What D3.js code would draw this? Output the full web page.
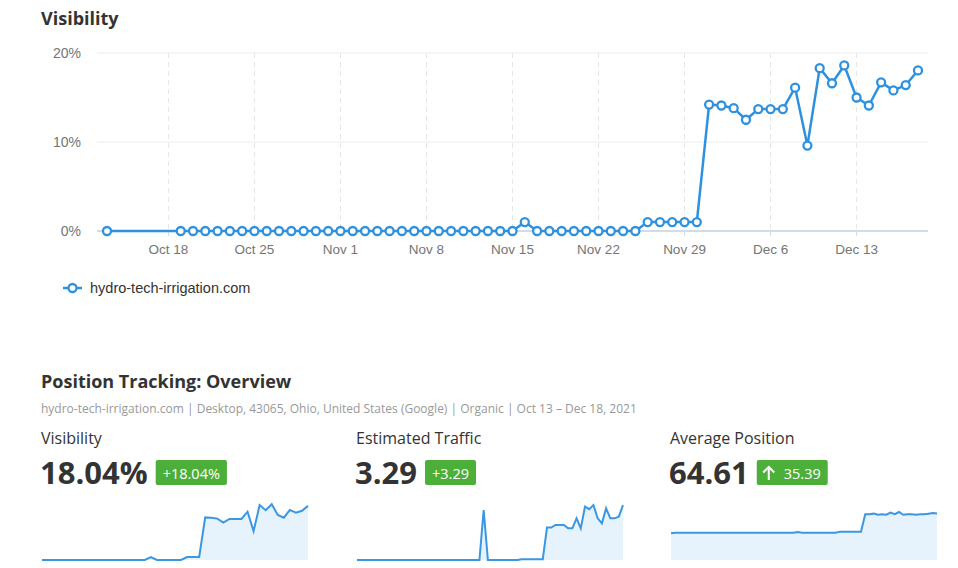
<!doctype html>
<html lang="en">
<head>
<meta charset="UTF-8">
<title>Visibility</title>
<script src="https://d3js.org/d3.v7.min.js"></script>
<style>
  body { margin: 0; background: #fff; font-family: "Open Sans", "Noto Sans", sans-serif; }
</style>
</head>
<body>
<div id="chart-area"></div>
<script>

// main visibility series, Oct 13 - Dec 18 2021 (null = no data)
const startDate = new Date(2021, 9, 13);
const visibility = [
  0, null, null, null, null, null,
  0, 0, 0, 0, 0, 0, 0, 0, 0, 0, 0, 0, 0, 0,
  0, 0, 0, 0, 0, 0, 0, 0, 0, 0, 0, 0, 0, 0,
  1.0, 0, 0, 0, 0, 0, 0, 0, 0, 0,
  1.0, 1.0, 1.0, 1.0, 1.0,
  14.2, 14.1, 13.8, 12.5, 13.7, 13.7, 13.7, 16.1, 9.6, 18.3,
  16.6, 18.6, 15.0, 14.1, 16.7, 15.8, 16.4, 18.04
];
const yTicks = [0, 10, 20];
const xTickDates = ['2021-10-18', '2021-10-25', '2021-11-01', '2021-11-08',
  '2021-11-15', '2021-11-22', '2021-11-29', '2021-12-06', '2021-12-13'];
const legendLabel = 'hydro-tech-irrigation.com';

// overview cards
const cardTitles = ['Visibility', 'Estimated Traffic', 'Average Position'];
const cardValues = ['18.04%', '3.29', '64.61'];
const cardDeltas = ['+18.04%', '+3.29', '35.39'];
const sparkVisibility = [
  0, 0, 0, 0, 0, 0, 0, 0, 0, 0, 0, 0, 0, 0, 0, 0, 0, 0, 1.0, 0, 0, 0, 0, 0,
  1.0, 1.0, 1.0,
  14.2, 14.1, 13.8, 12.5, 13.7, 13.7, 13.7, 16.1, 9.6, 18.3,
  16.6, 18.6, 15.0, 14.1, 16.7, 15.8, 16.4, 18.04
];
const sparkTraffic = [
  0, 0, 0, 0, 0, 0, 0, 0, 0, 0, 0, 0, 0, 0, 0, 0, 0, 0, 0, 0,
  0, 0, 0, 0, 0, 0, 0, 0, 0, 0, 3.0, 0, 0, 0, 0, 0, 0, 0, 0,
  0.05, 0.05, 0.05, 0.05, 0.05, 0.05,
  1.95, 1.95, 2.1, 2.1, 2.1, 1.9, 1.9, 2.5, 1.9, 3.2,
  3.05, 3.3, 2.5, 2.2, 3.1, 2.5, 2.5, 2.6, 3.29
];
const sparkPosition = [
  101, 100, 100, 100, 100, 100, 100, 100, 100, 100, 100, 100, 100, 100, 100,
  100, 100, 100, 100, 100, 100, 100, 100, 100, 100, 100, 100, 100, 100, 100,
  98.5, 100, 100, 100, 100, 100, 100, 100, 100, 100,
  98, 98, 98, 98, 98, 98,
  66, 66, 65, 67, 66, 67, 63, 66, 62, 67, 66, 66, 67, 66, 66, 65, 64, 64.61
];

const blue = '#2e91e0';
const svg = d3.select('#chart-area').append('svg')
  .attr('width', 958).attr('height', 568);

// ---- main chart ----
svg.append('text').attr('x', 41).attr('y', 25)
  .attr('font-size', 18).attr('font-weight', 700).attr('fill', '#333')
  .text('Visibility');

const dates = visibility.map((v, i) => d3.timeDay.offset(startDate, i));
const x = d3.scaleTime()
  .domain([startDate, dates[dates.length - 1]])
  .range([107, 918]);
const y = d3.scaleLinear().domain([0, 20]).range([231, 53]);

const g = svg.append('g');
g.selectAll('.hgrid').data(yTicks).enter().append('line')
  .attr('x1', 97).attr('x2', 928)
  .attr('y1', d => y(d)).attr('y2', d => y(d))
  .attr('stroke', d => d === 0 ? '#d3dbea' : '#ececec')
  .attr('stroke-width', d => d === 0 ? 2 : 1);

const tickDates = xTickDates.map(d => d3.timeParse('%Y-%m-%d')(d));
g.selectAll('.vgrid').data(tickDates).enter().append('line')
  .attr('x1', d => x(d)).attr('x2', d => x(d))
  .attr('y1', 53).attr('y2', 230)
  .attr('stroke', '#e6e6e6').attr('stroke-dasharray', '5,4');

g.selectAll('.tick-x').data(tickDates).enter().append('line')
  .attr('x1', d => x(d)).attr('x2', d => x(d))
  .attr('y1', 231).attr('y2', 236).attr('stroke', '#d3dbea');

g.selectAll('.xl').data(tickDates).enter().append('text')
  .attr('x', d => x(d)).attr('y', 254)
  .attr('text-anchor', 'middle').attr('font-size', 13.5)
  .attr('font-family', 'Liberation Sans, Arial, sans-serif').attr('fill', '#757575')
  .text(d3.timeFormat('%b %-d'));

g.selectAll('.yl').data(yTicks).enter().append('text')
  .attr('x', 81).attr('y', d => y(d) + 5)
  .attr('text-anchor', 'end').attr('font-size', 14)
  .attr('font-family', 'Liberation Sans, Arial, sans-serif').attr('fill', '#757575')
  .text(d => d + '%');

const pts = visibility.map((v, i) => ({ d: dates[i], v })).filter(p => p.v !== null);
const line = d3.line().x(p => x(p.d)).y(p => y(p.v));
g.append('path').datum(pts).attr('d', line)
  .attr('fill', 'none').attr('stroke', blue).attr('stroke-width', 2.5)
  .attr('stroke-linejoin', 'round');
g.selectAll('.pt').data(pts).enter().append('circle')
  .attr('cx', p => x(p.d)).attr('cy', p => y(p.v)).attr('r', 4)
  .attr('fill', '#fff').attr('stroke', blue).attr('stroke-width', 2.3);

// legend
svg.append('line').attr('x1', 63).attr('x2', 82).attr('y1', 288).attr('y2', 288)
  .attr('stroke', blue).attr('stroke-width', 2.5);
svg.append('circle').attr('cx', 72.5).attr('cy', 288).attr('r', 4)
  .attr('fill', '#fff').attr('stroke', blue).attr('stroke-width', 2.3);
svg.append('text').attr('x', 90).attr('y', 293)
  .attr('font-size', 14.5).attr('font-family', 'Liberation Sans, Arial, sans-serif')
  .attr('fill', '#333').text(legendLabel);

// ---- overview ----
svg.append('text').attr('x', 41).attr('y', 388)
  .attr('font-size', 18).attr('font-weight', 700).attr('fill', '#333')
  .text('Position Tracking: Overview');
svg.append('text').attr('x', 41).attr('y', 413)
  .attr('font-size', 12).attr('fill', '#999')
  .text('hydro-tech-irrigation.com | Desktop, 43065, Ohio, United States (Google) | Organic | Oct 13 – Dec 18, 2021');

const cardX = [41, 356, 670];
const sparks = [
  { data: sparkVisibility, domain: [0, 20] },
  { data: sparkTraffic, domain: [0, 3.6] },
  { data: sparkPosition, domain: [150, 40] }
];

cardTitles.forEach((t, i) => {
  const cg = svg.append('g').attr('transform', `translate(${cardX[i]},0)`);
  cg.append('text').attr('x', 0).attr('y', 444)
    .attr('font-size', 16).attr('fill', '#333').text(t);
  const big = cg.append('text').attr('x', -1).attr('y', 484)
    .attr('font-size', 31).attr('font-weight', 700).attr('fill', '#333')
    .text(cardValues[i]);
  const bw = big.node().getComputedTextLength();
  const bx = bw + 7;
  const badge = cg.append('g').attr('transform', `translate(${bx},460)`);
  const isPos = i === 2;
  const lbl = badge.append('text').attr('x', isPos ? 27 : 7).attr('y', 18.5)
    .attr('font-size', 14.5).attr('fill', '#fff').text(cardDeltas[i]);
  const lw = lbl.node().getComputedTextLength();
  badge.insert('rect', 'text').attr('width', lw + (isPos ? 34 : 14)).attr('height', 25)
    .attr('rx', 2).attr('fill', '#4caf3a');
  if (isPos) {
    badge.append('path').attr('d', 'M12,20 V7 M6.5,12.5 L12,7 L17.5,12.5')
      .attr('stroke', '#fff').attr('stroke-width', 2).attr('fill', 'none');
  }

  const s = sparks[i];
  const sx = d3.scaleLinear().domain([0, s.data.length - 1]).range([1, 267]);
  const sy = d3.scaleLinear().domain(s.domain).range([560, 500]);
  const sg = cg.append('g');
  sg.append('path').datum(s.data)
    .attr('d', d3.area().x((d, j) => sx(j)).y0(560).y1(d => sy(d)))
    .attr('fill', '#e6f2fc');
  sg.append('path').datum(s.data)
    .attr('d', d3.line().x((d, j) => sx(j)).y(d => sy(d)))
    .attr('fill', 'none').attr('stroke', '#3b97e3').attr('stroke-width', 2);
});
</script>
</body>
</html>
